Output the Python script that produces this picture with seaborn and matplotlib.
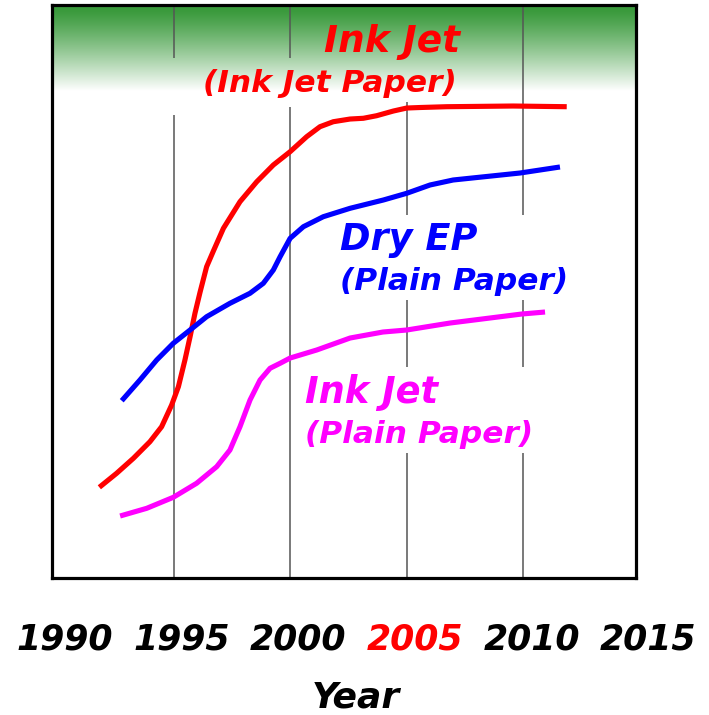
import numpy as np
import pandas as pd
import matplotlib
matplotlib.use("Agg")
import matplotlib.pyplot as plt
import seaborn as sns

# ---------------- data ----------------
red_years = [1991.82, 1992.56, 1993.28, 1993.99, 1994.49, 1994.92, 1995.21, 1995.49,
             1995.71, 1995.92, 1996.14, 1996.42, 1996.71, 1997.14, 1997.85, 1998.57,
             1999.28, 2000.0, 2000.71, 2001.28, 2001.85, 2002.57, 2003.14, 2003.71,
             2004.43, 2005.0, 2005.57, 2006.72, 2009.56, 2011.86]
red_vals = [15.83, 18.27, 20.89, 23.79, 26.40, 30.19, 33.39, 38.05,
            42.11, 46.20, 49.91, 54.33, 57.07, 61.03, 65.67, 69.16,
            72.08, 74.40, 77.02, 78.76, 79.63, 80.10, 80.23, 80.68,
            81.50, 82.02, 82.11, 82.25, 82.37, 82.25]

blue_years = [1992.78, 1993.56, 1994.28, 1994.99, 1995.71, 1996.42, 1997.42, 1998.28,
              1998.85, 1999.28, 1999.57, 2000.0, 2000.57, 2001.42, 2002.57, 2004.0,
              2005.0, 2006.0, 2006.99, 2009.86, 2011.57]
blue_vals = [30.94, 34.55, 38.05, 40.96, 43.28, 45.60, 47.94, 49.69,
             51.43, 53.75, 56.07, 59.28, 61.31, 63.05, 64.52, 65.97,
             67.14, 68.59, 69.46, 70.68, 71.73]

mag_years = [1992.71, 1993.85, 1994.99, 1995.99, 1996.85, 1997.42, 1997.85, 1998.28,
             1998.71, 1999.14, 1999.57, 2000.0, 2001.14, 2002.57, 2003.98, 2005.0,
             2006.86, 2009.93, 2010.93]
mag_vals = [10.82, 12.16, 14.08, 16.53, 19.42, 22.34, 26.40, 31.06,
            34.55, 36.60, 37.47, 38.39, 39.79, 41.88, 42.93, 43.28,
            44.50, 46.07, 46.42]

series_names = ["Ink Jet (Ink Jet Paper)", "Dry EP (Plain Paper)", "Ink Jet (Plain Paper)"]
series_colors = ["#ff0000", "#0000ff", "#ff00ff"]

tick_years = [1990, 1995, 2000, 2005, 2010, 2015]
tick_labels = ["1990", "1995", "2000", "2005", "2010", "2015"]
tick_colors = ["black", "black", "black", "red", "black", "black"]

# ---------------- figure ----------------
sns.set_theme(style="white")
plt.rcParams["font.family"] = ["DejaVu Sans"]

W, H = 709, 715
fig = plt.figure(figsize=(W / 100, H / 100), dpi=100)
ax = fig.add_axes([52 / W, 1 - 578 / H, (636 - 52) / W, (578 - 5) / H])

XMIN, XMAX = 1989.79, 2014.83
ax.set_xlim(XMIN, XMAX)
ax.set_ylim(0, 100)

# green gradient band at top
green = np.array([58, 154, 60]) / 255.0
n = 200
t = np.linspace(0, 1, n)[:, None] ** 1.15
grad = green * (1 - t) + np.ones(3) * t
grad = grad[:, None, :]
ax.imshow(grad, extent=[XMIN, XMAX, 85.0, 99.0], aspect="auto", origin="upper",
          zorder=0, interpolation="bilinear")
ax.axhspan(99.0, 100, color=green, lw=0, zorder=0)

# vertical grid segments (with gaps behind labels)
grid_segments = {
    1995: [(0, 80.8), (90.75, 100)],
    2000: [(0, 82.2), (90.75, 100)],
    2005: [(0, 21.8), (36.8, 48.5), (63.4, 83.1)],
    2010: [(0, 21.8), (36.8, 48.5), (63.4, 100)],
}
for yr, segs in grid_segments.items():
    for a, b in segs:
        ax.vlines(yr, a, b, color="#555555", lw=1.1, zorder=1)

# data lines
df = pd.concat([
    pd.DataFrame({"year": red_years, "value": red_vals, "series": series_names[0]}),
    pd.DataFrame({"year": blue_years, "value": blue_vals, "series": series_names[1]}),
    pd.DataFrame({"year": mag_years, "value": mag_vals, "series": series_names[2]}),
])
sns.lineplot(data=df, x="year", y="value", hue="series", palette=series_colors,
             hue_order=series_names, estimator=None, sort=False, linewidth=3.7,
             legend=False, ax=ax, zorder=3)
for ln in ax.get_lines():
    ln.set_solid_capstyle("butt")
    ln.set_solid_joinstyle("round")

ax.set_xticks([])
ax.set_yticks([])
ax.set_xlabel("")
ax.set_ylabel("")
for sp in ax.spines.values():
    sp.set_color("black")
    sp.set_linewidth(2.3)
    sp.set_zorder(5)

# tick labels
for yr, lab, col in zip(tick_years, tick_labels, tick_colors):
    ax.text(yr + 0.35, (578 - 650) / 573, lab, transform=ax.get_xaxis_transform(),
            ha="center", va="baseline", fontsize=25, fontweight="bold",
            fontstyle="italic", color=col, clip_on=False)

fig.text(356 / W, 1 - 707 / H, "Year", ha="center", va="baseline", fontsize=26,
         fontweight="bold", fontstyle="italic", color="black")

def lbl(x, y, s, size, color, ha):
    fig.text(x / W, 1 - y / H, s, ha=ha, va="baseline", fontsize=size,
             fontweight="bold", fontstyle="italic", color=color)

lbl(460, 52, "Ink Jet", 27, series_colors[0], "right")
lbl(457, 92, "(Ink Jet Paper)", 22.5, series_colors[0], "right")
lbl(340, 250, "Dry EP", 26.5, series_colors[1], "left")
lbl(340, 290, "(Plain Paper)", 22.5, series_colors[1], "left")
lbl(305, 403, "Ink Jet", 26.5, series_colors[2], "left")
lbl(305, 443, "(Plain Paper)", 22.5, series_colors[2], "left")

fig.savefig("out.png", dpi=100)
